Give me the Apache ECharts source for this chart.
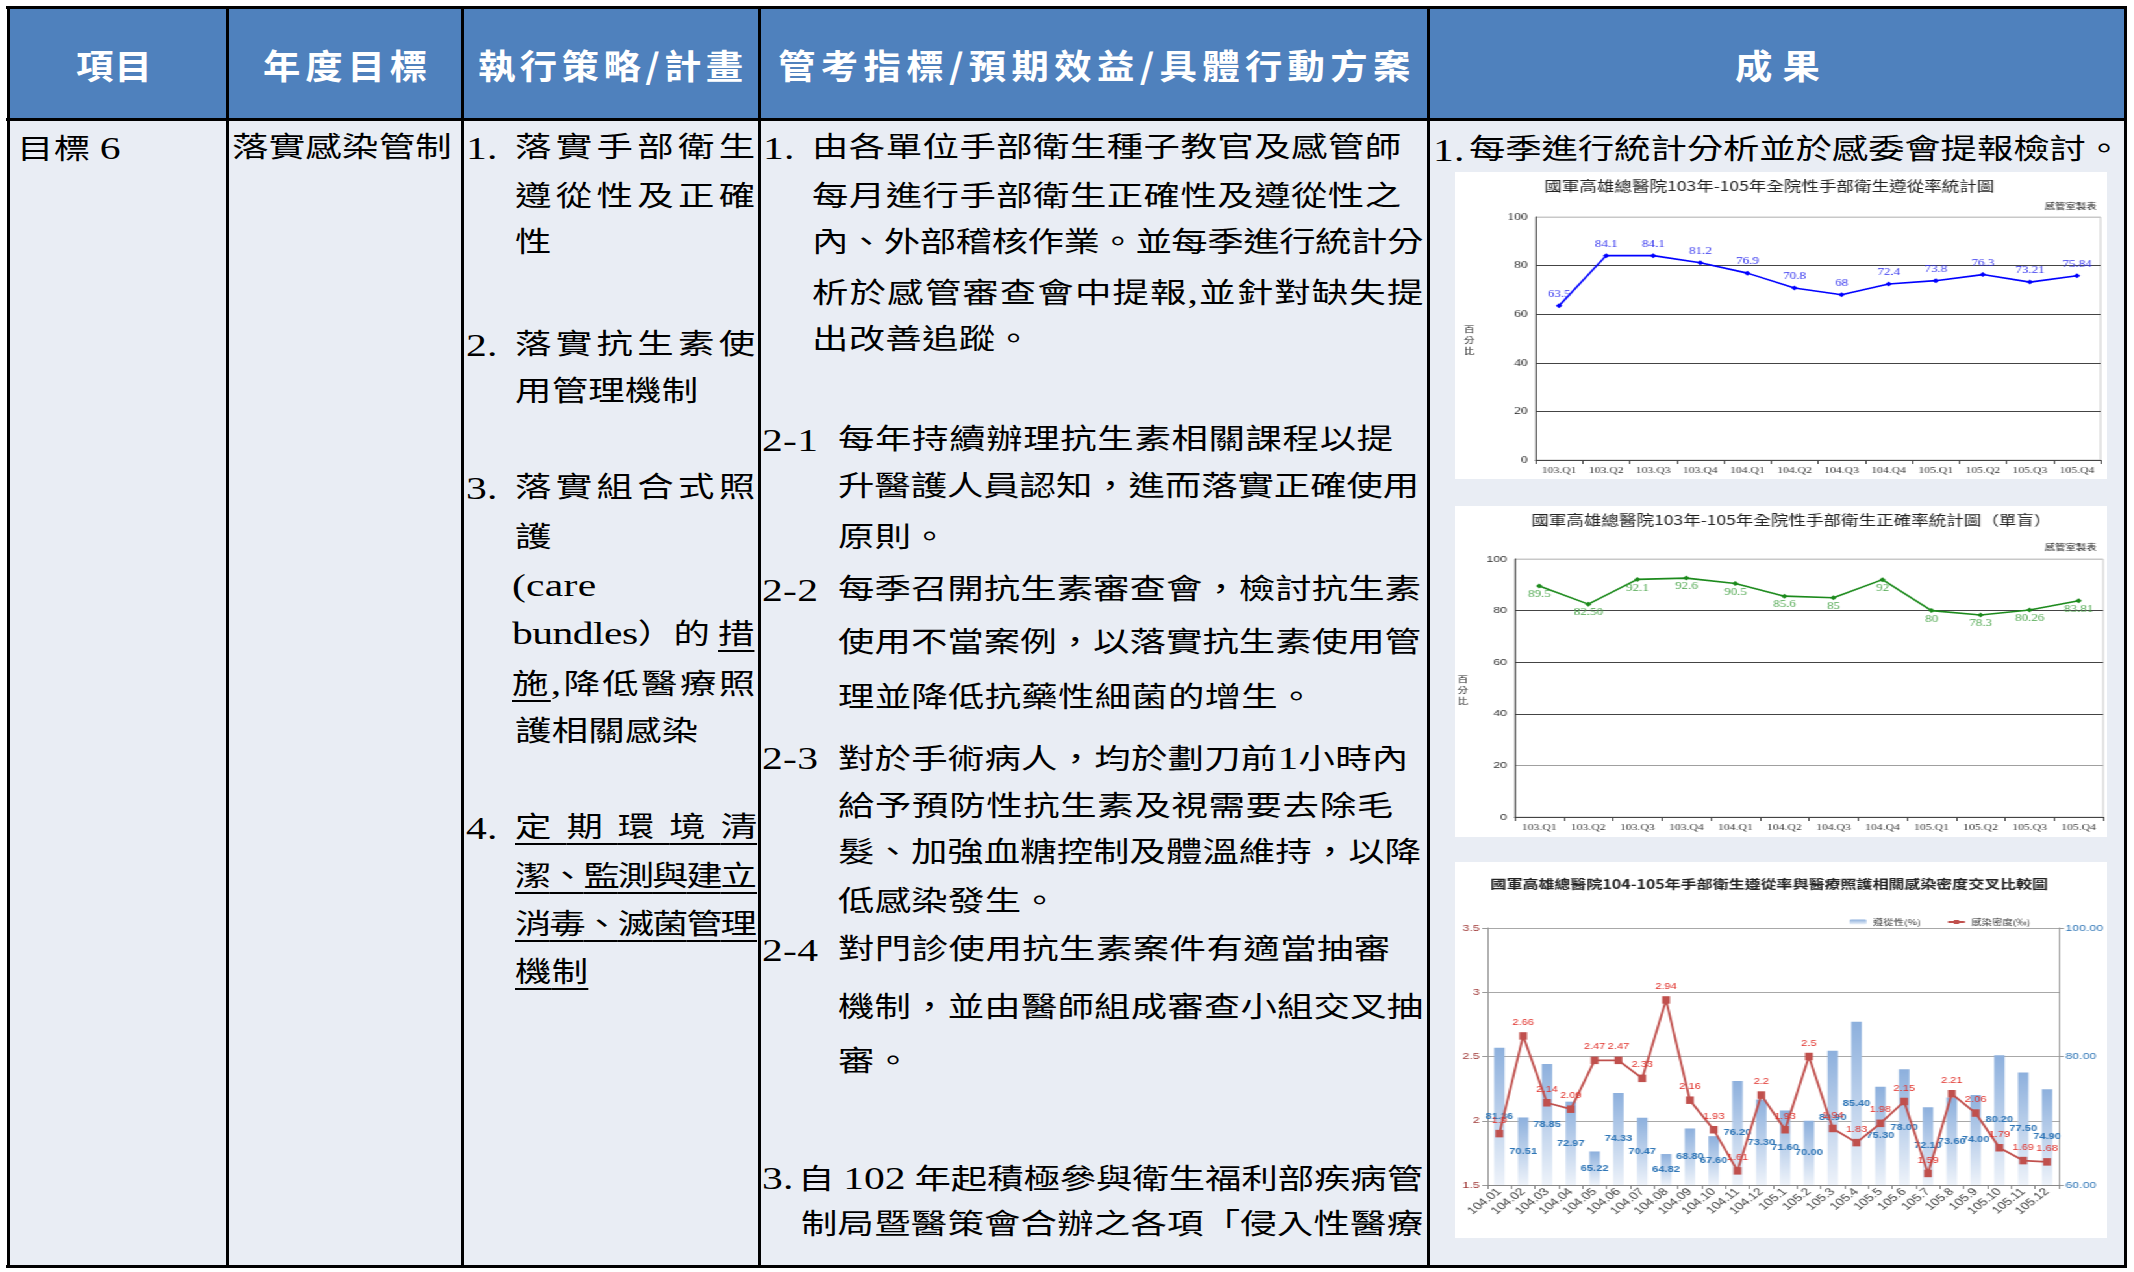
<!DOCTYPE html>
<html><head><meta charset="utf-8">
<script src="https://cdn.jsdelivr.net/npm/echarts/dist/echarts.min.js"></script>
<style>
html,body{margin:0;padding:0;background:#fff;}
#page{position:relative;width:2134px;height:1272px;overflow:hidden;background:#fff;}
.bg{position:absolute;}
.ln{position:absolute;background:#000;z-index:5;}
.tx{position:absolute;white-space:nowrap;line-height:40px;height:40px;transform-origin:0 50%;font-family:'Liberation Serif','Noto Sans CJK TC',serif;color:#000;z-index:3;}
.hd{font-family:'Noto Sans CJK TC',sans-serif;font-weight:700;color:#fff;}
.u{text-decoration:underline;text-decoration-thickness:2px;text-underline-offset:6px;}
.chart{position:absolute;background:#fff;transform-origin:0 0;z-index:2;}
</style></head>
<body><div id="page"></div>
<script>
// ---------------- chart data ----------------
const quarterCats = ['103.Q1','103.Q2','103.Q3','103.Q4','104.Q1','104.Q2','104.Q3','104.Q4','105.Q1','105.Q2','105.Q3','105.Q4'];
const complianceQ = [63.5,84.1,84.1,81.2,76.9,70.8,68,72.4,73.8,76.3,73.21,75.84];
const correctQText = ['89.5','82.50','92.1','92.6','90.5','85.6','85','92','80','78.3','80.26','83.81'];
const monthCats = ['104.01','104.02','104.03','104.04','104.05','104.06','104.07','104.08','104.09','104.10','104.11','104.12','105.1','105.2','105.3','105.4','105.5','105.6','105.7','105.8','105.9','105.10','105.11','105.12'];
const complianceM = [81.36,70.51,78.85,72.97,65.22,74.33,70.47,64.82,68.80,67.60,76.20,73.30,71.60,70.00,80.90,85.40,75.30,78.00,72.10,73.60,74.00,80.20,77.50,74.90];
const infectionM = [1.9,2.66,2.14,2.09,2.47,2.47,2.33,2.94,2.16,1.93,1.61,2.2,1.93,2.5,1.94,1.83,1.98,2.15,1.59,2.21,2.06,1.79,1.69,1.68];
const pctTicks1 = [0,100,20];
const leftTicks3 = [1.5,3.5,0.5];
const rightTicks3 = [60,100,20];
const title1 = '國軍高雄總醫院103年-105年全院性手部衛生遵從率統計圖';
const title2 = '國軍高雄總醫院103年-105年全院性手部衛生正確率統計圖（單盲）';
const title3 = '國軍高雄總醫院104-105年手部衛生遵從率與醫療照護相關感染密度交叉比較圖';
const legend3 = ['遵從性(%)','感染密度(‰)'];

// ---------------- table text ----------------
const headers = ['項目','年度目標','執行策略/計畫','管考指標/預期效益/具體行動方案','成果'];
const headerSpan = [[76,152],[263,427],[478,743],[778,1410],[1735,1820]];

// [segments, x0, x1(null = natural), cy]
const bodyLines = [
  ['目標 6',17,null,148],
  ['落實感染管制',232,null,148],
  ['1.',466,null,148],['落實手部衛生',515,755,148],
  ['遵從性及正確',515,755,197],
  ['性',515,null,243],
  ['2.',466,null,345],['落實抗生素使',515,755,345],
  ['用管理機制',515,null,392],
  ['3.',466,null,488],['落實組合式照',515,755,488],
  ['護',515,null,538],
  ['(care',512,null,585],
  [[['bundles）的 ',0],['措',1]],512,755,633],
  [[['施',1],[',降低醫療照',0]],512,755,683],
  ['護相關感染',515,null,732],
  ['4.',466,null,828],[[['定期環境清',1]],515,757,828],
  [[['潔、監測與建立',1]],515,757,877],
  [[['消毒、滅菌管理',1]],515,757,925],
  [[['機制',1]],515,null,973],
  ['1.',763,null,148],['由各單位手部衛生種子教官及感管師',812,1401,148],
  ['每月進行手部衛生正確性及遵從性之',812,1401,197],
  ['內、外部稽核作業。並每季進行統計分',812,1423,243],
  ['析於感管審查會中提報,並針對缺失提',812,1423,292],
  ['出改善追蹤。',812,null,340],
  ['2-1',762,null,440],['每年持續辦理抗生素相關課程以提',838,1393,440],
  ['升醫護人員認知，進而落實正確使用',838,1419,487],
  ['原則。',838,null,538],
  ['2-2',762,null,590],['每季召開抗生素審查會，檢討抗生素',838,1421,590],
  ['使用不當案例，以落實抗生素使用管',838,1421,643],
  ['理並降低抗藥性細菌的增生。',838,null,698],
  ['2-3',762,null,758],['對於手術病人，均於劃刀前1小時內',838,1408,758],
  ['給予預防性抗生素及視需要去除毛',838,1393,807],
  ['髮、加強血糖控制及體溫維持，以降',838,1421,853],
  ['低感染發生。',838,null,902],
  ['2-4',762,null,950],['對門診使用抗生素案件有適當抽審',838,1390,950],
  ['機制，並由醫師組成審查小組交叉抽',838,1423,1008],
  ['審。',838,null,1062],
  ['3.',762,null,1178],['自 102 年起積極參與衛生福利部疾病管',798,1423,1178],
  ['制局暨醫策會合辦之各項「侵入性醫療',801,1423,1225],
  ['1.',1433,null,150],['每季進行統計分析並於感委會提報檢討。',1469,2122,150]
];

const page = document.getElementById('page');
function box(cls, x, y, w, h, color){
  const d = document.createElement('div'); d.className = cls;
  Object.assign(d.style,{left:x+'px',top:y+'px',width:w+'px',height:h+'px'});
  if (color) d.style.background = color;
  page.appendChild(d); return d;
}
// backgrounds
box('bg',8,7,2117,112,'#4F81BD');
box('bg',8,119,2117,1147,'#E9EDF4');
// grid lines
[7,119,1266].forEach(y=>box('ln',6,y-1.5,2121,3));
[8,227,462,759,1428,2125].forEach(x=>box('ln',x-1.5,6,3,1262));

function addLine(segs, x0, x1, cy, cls, fs, latFs, baseLS, sx){
  const d = document.createElement('div');
  d.className = 'tx ' + (cls||'');
  d.style.left = x0+'px'; d.style.top = (cy-20)+'px'; d.style.fontSize = fs+'px';
  d.style.transform = 'scaleX('+sx+')';
  if (typeof segs === 'string') segs = [[segs,0]];
  const spans = [];
  segs.forEach(([t,u])=>{ for (const ch of Array.from(t)){
    const s=document.createElement('span'); s.textContent=ch; if(u) s.className='u';
    if (/[\x21-\x7e]/.test(ch)) s.style.fontSize = latFs+'px';
    d.appendChild(s); spans.push(s);} });
  page.appendChild(d);
  if (x1 != null && spans.length > 1){
    const w = d.offsetWidth;
    const ls = ((x1-x0)/sx - w)/(spans.length-1);
    d.style.letterSpacing = ls+'px';
    spans[spans.length-1].style.letterSpacing = '0px';
  } else {
    d.style.letterSpacing = baseLS+'px';
  }
}
headers.forEach((h,i)=>addLine(h, headerSpan[i][0], headerSpan[i][1], 65, 'hd', 34, 34, 0, 1.1));
bodyLines.forEach(l=>addLine(l[0], l[1], l[2], l[3], '', 28, 32, 0.2, 1.3));

// ---------------- charts ----------------
function mkChart(x, y, h){
  const d = document.createElement('div'); d.className='chart';
  const W = 502;
  Object.assign(d.style,{left:x+'px',top:y+'px',width:W+'px',height:h+'px',transform:'scaleX('+(652/W)+')'});
  page.appendChild(d);
  return echarts.init(d, null, {renderer:'canvas', width:W, height:h});
}
const SERIF = 'Liberation Serif';
const SANS = 'Liberation Sans';
const CJK = '"Noto Sans CJK TC"';
function gtext(x,y,text,font,fill,align){
  return {type:'text', x:x, y:y, z:100, style:{text:text, font:font, fill:fill, textAlign:align||'center', textVerticalAlign:'middle', lineHeight:11}};
}

// Chart 1
const ch1 = mkChart(1455,172,307);
ch1.setOption({
  animation:false,
  grid:{left:62,right:5,top:45,bottom:19,show:true,borderColor:'#C8C8C8',borderWidth:1,containLabel:false,outerBoundsMode:'none'},
  graphic:[
    gtext(242,14,title1,'normal 13.5px '+CJK,'#222'),
    gtext(494,34,'感管室製表','normal 8px '+CJK,'#222','right'),
    gtext(11,168,'百\n分\n比','normal 8px '+CJK,'#222')
  ],
  xAxis:{type:'category',data:quarterCats,boundaryGap:true,
    axisLine:{lineStyle:{color:'#444',width:1}},
    axisTick:{show:true,length:4,lineStyle:{color:'#444'}},
    axisLabel:{interval:0,margin:6,fontFamily:SERIF,fontSize:9,color:'#333'},splitLine:{show:false}},
  yAxis:{type:'value',min:pctTicks1[0],max:pctTicks1[1],interval:pctTicks1[2],
    axisLine:{show:true,lineStyle:{color:'#444'}},axisTick:{show:false},
    axisLabel:{fontFamily:SERIF,fontSize:10.5,color:'#222',margin:6},
    splitLine:{show:true,lineStyle:{color:['#555','#444','#444','#444','#444','#C8C8C8'],width:1}}},
  series:[{type:'line',data:complianceQ,symbol:'diamond',symbolSize:5,
    lineStyle:{color:'#0000FF',width:1.6},itemStyle:{color:'#0000FF'},
    label:{show:true,position:'top',distance:4,color:'#3333EE',fontFamily:SERIF,fontSize:10}}]
});

// Chart 2
const ch2 = mkChart(1455,506,331);
ch2.setOption({
  animation:false,
  grid:{left:46,right:3,top:53,bottom:20,show:true,borderColor:'#C8C8C8',borderWidth:1,containLabel:false,outerBoundsMode:'none'},
  graphic:[
    gtext(259,14,title2,'normal 13.5px '+CJK,'#222'),
    gtext(494,41,'感管室製表','normal 8px '+CJK,'#222','right'),
    gtext(6,184,'百\n分\n比','normal 8px '+CJK,'#222')
  ],
  xAxis:{type:'category',data:quarterCats,boundaryGap:true,
    axisLine:{lineStyle:{color:'#444',width:1}},
    axisTick:{show:true,length:4,lineStyle:{color:'#444'}},
    axisLabel:{interval:0,margin:6,fontFamily:SERIF,fontSize:9,color:'#333'},splitLine:{show:false}},
  yAxis:{type:'value',min:pctTicks1[0],max:pctTicks1[1],interval:pctTicks1[2],
    axisLine:{show:true,lineStyle:{color:'#444'}},axisTick:{show:false},
    axisLabel:{fontFamily:SANS,fontSize:9.5,color:'#333',margin:6},
    splitLine:{show:true,lineStyle:{color:['#555','#A0A0A0','#444','#444','#444','#C8C8C8'],width:1}}},
  series:[{type:'line',data:correctQText.map(Number),symbol:'diamond',symbolSize:5,
    lineStyle:{color:'#1C8A1C',width:1.6},itemStyle:{color:'#1C8A1C'},
    label:{show:true,position:'bottom',distance:1,color:'#4CA64C',fontFamily:SERIF,fontSize:10,
      formatter:p=>correctQText[p.dataIndex]}}]
});

// Chart 3
const ch3 = mkChart(1455,862,376);
ch3.setOption({
  animation:false,
  grid:{left:25,right:37,top:66,bottom:53,containLabel:false,outerBoundsMode:'none'},
  graphic:[gtext(242,22,title3,'bold 12.3px '+CJK,'#222')],
  legend:{show:true,top:51,right:54,orient:'horizontal',itemWidth:13,itemHeight:5,itemGap:20,
    textStyle:{fontSize:8,color:'#333',fontFamily:CJK},data:legend3},
  xAxis:{type:'category',data:monthCats,boundaryGap:true,
    axisLine:{lineStyle:{color:'#888',width:1}},
    axisTick:{show:true,length:4,lineStyle:{color:'#888'}},
    axisLabel:{interval:0,rotate:45,margin:5,fontFamily:SANS,fontSize:10.5,color:'#404040'},splitLine:{show:false}},
  yAxis:[
    {type:'value',min:leftTicks3[0],max:leftTicks3[1],interval:leftTicks3[2],position:'left',
      axisLine:{show:true,lineStyle:{color:'#999'}},axisTick:{show:true,length:4,lineStyle:{color:'#999'}},
      axisLabel:{fontFamily:SANS,fontSize:9.5,color:'#A03A38',margin:6},
      splitLine:{show:true,lineStyle:{color:'#A8A8A8',width:1.2}}},
    {type:'value',min:rightTicks3[0],max:rightTicks3[1],interval:rightTicks3[2],position:'right',
      axisLine:{show:true,lineStyle:{color:'#999'}},axisTick:{show:true,length:4,lineStyle:{color:'#999'}},
      axisLabel:{fontFamily:SANS,fontSize:9.5,color:'#2E75B6',margin:5,formatter:v=>v.toFixed(2)},
      splitLine:{show:false}}
  ],
  series:[
    {name:legend3[0],type:'bar',yAxisIndex:1,data:complianceM,barWidth:'44%',
      itemStyle:{color:new echarts.graphic.LinearGradient(0,0,0,1,[{offset:0,color:'#8DB0DD'},{offset:1,color:'#EEF3FA'}])},
      label:{show:true,position:'inside',color:'#2E75B6',fontWeight:'bold',fontFamily:SANS,fontSize:8.5,formatter:p=>p.value.toFixed(2)}},
    {name:legend3[1],type:'line',yAxisIndex:0,data:infectionM,symbol:'rect',symbolSize:[6,7.5],
      lineStyle:{color:'#C0504D',width:1.8},itemStyle:{color:'#C0504D'},
      label:{show:true,position:'top',distance:5,color:'#E0302A',fontFamily:SANS,fontSize:8.5}}
  ]
});
</script></body></html>
